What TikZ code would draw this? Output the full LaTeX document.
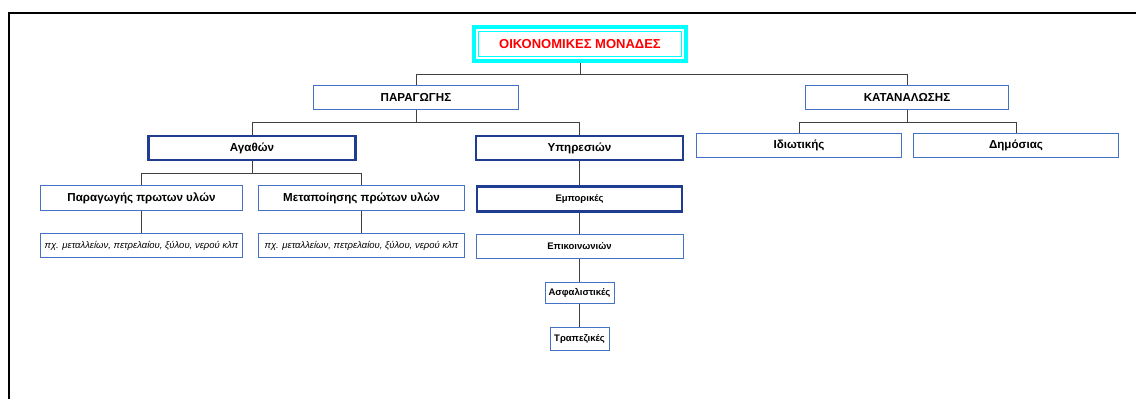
\documentclass[tikz,border=0pt]{standalone}
\usepackage{fontspec}
\setsansfont{Liberation Sans}
\usepackage{tikz}
\usetikzlibrary{positioning, calc}
\definecolor{boxblue}{HTML}{4472C4}
\definecolor{boxnavy}{HTML}{1F3C8F}
\definecolor{linkgray}{HTML}{404040}
\definecolor{ttlcyan}{HTML}{00FFFF}
\definecolor{ttlred}{HTML}{FF0000}
\tikzset{
  lbox/.style={draw=boxblue, fill=white, line width=1pt, inner sep=0pt, align=center,
    font=\sffamily\bfseries\fontsize{11.6}{13}\selectfont, text=black},
  sbox/.style={lbox, font=\sffamily\bfseries\fontsize{9.5}{11}\selectfont},
  hbox/.style={lbox, draw=boxnavy, line width=2.6pt},
  ebox/.style={lbox, font=\sffamily\itshape\fontsize{9.5}{11}\selectfont},
  tbox/.style={draw=ttlcyan, fill=white, line width=4pt, inner sep=0pt,
    font=\sffamily\bfseries\fontsize{13}{15}\selectfont, text=ttlred},
  link/.style={draw=linkgray, line width=1pt},
  frame/.style={draw=black, line width=2pt}
}
\begin{document}
\begin{tikzpicture}[x=1pt, y=-1pt]
\useasboundingbox (0,0) rectangle (1136,399);
\draw[frame] (9,399) -- (9,13) -- (1136,13);
\node[tbox, minimum width=212pt, minimum height=34pt] (top) at (580,44) {ΟΙΚΟΝΟΜΙΚΕΣ ΜΟΝΑΔΕΣ};
\draw[ttlcyan, line width=1pt] ([shift={(6.5,6.5)}]top.north west) rectangle ([shift={(-6.5,-6.5)}]top.south east);
\node[lbox, minimum width=205pt, minimum height=24pt] (par) at (416,97.5) {ΠΑΡΑΓΩΓΗΣ};
\node[lbox, minimum width=203pt, minimum height=24pt] (kat) at (907,97.5) {ΚΑΤΑΝΑΛΩΣΗΣ};
\node[hbox, minimum width=207pt, minimum height=24pt] (agath) at (252,148) {Αγαθών};
\node[hbox, minimum width=207pt, minimum height=24pt] (ypir) at (579.5,148) {Υπηρεσιών};
\node[lbox, minimum width=205pt, minimum height=24pt] (idiot) at (799,145.5) {Ιδιωτικής};
\node[lbox, minimum width=205pt, minimum height=24pt] (dim) at (1016,145.5) {Δημόσιας};
\node[lbox, minimum width=202pt, minimum height=25pt] (prod) at (141.5,198) {Παραγωγής πρωτων υλών};
\node[lbox, minimum width=206pt, minimum height=25pt] (meta) at (361.5,198) {Μεταποίησης πρώτων υλών};
\node[ebox, minimum width=202pt, minimum height=24pt] (ex1) at (141.5,245.5) {πχ. μεταλλείων, πετρελαίου, ξύλου, νερού κλπ};
\node[ebox, minimum width=206pt, minimum height=24pt] (ex2) at (361.5,245.5) {πχ. μεταλλείων, πετρελαίου, ξύλου, νερού κλπ};
\node[hbox, sbox, draw=boxnavy, line width=2.6pt, minimum width=205pt, minimum height=25pt] (emp) at (579.5,199) {Εμπορικές};
\node[sbox, minimum width=207pt, minimum height=24pt] (epik) at (579.5,246.5) {Επικοινωνιών};
\node[sbox, minimum width=69pt, minimum height=21pt] (asf) at (579.5,293) {Ασφαλιστικές};
\node[sbox, minimum width=59pt, minimum height=23pt] (trap) at (579.5,339) {Τραπεζικές};
% tree links
\draw[link] (top.south) -- ++(0,11) -| (par.north);
\draw[link] (top.south) -- ++(0,11) -| (kat.north);
\draw[link] (par.south) -- ++(0,12) -| (agath.north);
\draw[link] (par.south) -- ++(0,12) -| (ypir.north);
\draw[link] (kat.south) -- ++(0,12) -| (idiot.north);
\draw[link] (kat.south) -- ++(0,12) -| (dim.north);
\draw[link] (agath.south) -- ++(0,12) -| (prod.north);
\draw[link] (agath.south) -- ++(0,12) -| (meta.north);
\draw[link] (prod) -- (ex1); \draw[link] (meta) -- (ex2);
\draw[link] (ypir) -- (emp); \draw[link] (emp) -- (epik);
\draw[link] (epik) -- (asf); \draw[link] (asf) -- (trap);
\end{tikzpicture}
\end{document}
